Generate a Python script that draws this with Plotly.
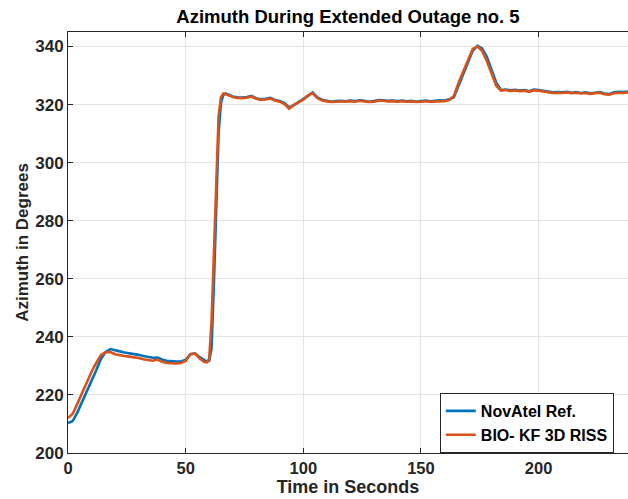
import plotly.graph_objects as go

# Time stamps (s) and azimuth (deg) for the two solutions
time_s = [0, 2, 4, 6, 8, 10, 12, 14, 16, 18, 20, 22, 24, 26, 28, 30, 32, 34, 36, 38,
          40, 42, 44, 46, 48, 50, 52, 54, 56, 58, 59, 60, 61, 62, 63, 64, 65, 66, 67, 68,
          70, 72, 74, 76, 78, 80, 82, 84, 86, 88, 90, 92, 94, 96, 98, 100, 102, 104, 106, 108,
          110, 112, 114, 116, 118, 120, 122, 124, 126, 128, 130, 132, 134, 136, 138, 140, 142, 144, 146, 148,
          150, 152, 154, 156, 158, 160, 162, 164, 166, 168, 170, 172, 174, 176, 178, 180, 182, 184, 186, 188,
          190, 192, 194, 196, 198, 200, 202, 204, 206, 208, 210, 212, 214, 216, 218, 220, 222, 224, 226, 228,
          230, 232, 234, 236, 238]

novatel_ref = [210.3, 211.0, 214.0, 217.5, 221.0, 225.0, 228.5, 232.5, 234.8, 235.8,
               235.5, 235.0, 234.6, 234.4, 234.1, 233.8, 233.4, 233.1, 232.8, 232.9,
               232.2, 231.8, 231.6, 231.5, 231.6, 232.0, 234.0, 234.3, 233.0, 231.8,
               231.5, 231.8, 236.0, 258.0, 285.0, 310.0, 320.5, 323.3, 323.8, 323.5,
               322.8, 322.5, 322.4, 322.6, 323.0, 322.2, 321.8, 322.0, 322.3, 321.6,
               321.2, 320.5, 319.0, 319.8, 320.8, 321.8, 323.0, 324.2, 322.5, 321.7,
               321.3, 321.0, 321.2, 321.3, 321.1, 321.4, 321.2, 321.5, 321.3, 321.0,
               321.2, 321.6, 321.5, 321.3, 321.4, 321.2, 321.4, 321.1, 321.3, 321.0,
               321.2, 321.4, 321.1, 321.3, 321.5, 321.4, 321.8, 322.5, 326.5, 330.5,
               334.5, 338.5, 340.2, 339.3, 336.5, 332.0, 327.5, 325.0, 325.2, 324.9,
               325.1, 324.8, 325.0, 324.6, 325.2, 325.0, 324.7, 324.6, 324.2, 324.3,
               324.2, 324.4, 324.1, 324.3, 324.0, 324.2, 323.9, 324.1, 324.3, 323.8,
               323.6, 324.2, 324.4, 324.3, 324.5]

bio_kf_riss = [212.0, 213.5, 217.0, 220.8, 224.5, 228.0, 231.0, 233.8, 234.7, 234.8,
               234.0, 233.6, 233.4, 233.2, 233.0, 232.7, 232.3, 232.0, 231.8, 232.2,
               231.4, 231.0, 230.9, 230.8, 231.0, 231.7, 234.0, 234.2, 232.5, 231.3,
               231.2, 232.5, 245.0, 268.0, 294.0, 316.0, 322.5, 323.8, 323.6, 323.3,
               322.6, 322.3, 322.2, 322.4, 322.8, 322.0, 321.6, 321.8, 322.1, 321.4,
               321.0, 320.2, 318.6, 319.9, 320.8, 321.7, 323.2, 323.9, 322.2, 321.4,
               321.1, 320.9, 321.0, 321.1, 321.0, 321.2, 321.0, 321.3, 321.1, 320.9,
               321.0, 321.4, 321.3, 321.1, 321.2, 321.0, 321.2, 321.0, 321.1, 320.9,
               321.0, 321.2, 321.0, 321.1, 321.3, 321.2, 321.6, 323.0, 327.5, 331.5,
               335.5, 339.2, 340.0, 338.5, 335.0, 330.5, 326.5, 324.8, 325.0, 324.7,
               324.9, 324.6, 324.8, 324.4, 324.9, 324.8, 324.5, 324.4, 324.0, 324.1,
               324.0, 324.2, 323.9, 324.1, 323.8, 324.0, 323.7, 323.9, 324.1, 323.6,
               323.4, 323.9, 324.1, 324.0, 324.2]

x_ticks = [0, 50, 100, 150, 200]
y_ticks = [200, 220, 240, 260, 280, 300, 320, 340]

axis_color = "#262626"
font_family = "Liberation Sans, Arial, sans-serif"

fig = go.Figure()
fig.add_trace(go.Scatter(x=time_s, y=novatel_ref, mode="lines", name="<b>NovAtel Ref.</b>",
                         line=dict(color="#0072BD", width=2.6)))
fig.add_trace(go.Scatter(x=time_s, y=bio_kf_riss, mode="lines", name="<b>BIO- KF 3D RISS</b>",
                         line=dict(color="#D95319", width=2.6)))

fig.update_layout(
    width=628, height=499,
    margin=dict(l=68, r=0, t=32, b=46),
    paper_bgcolor="white", plot_bgcolor="white",
    font=dict(family=font_family, color=axis_color),
    title=dict(text="<b>Azimuth During Extended Outage no. 5</b>",
               x=(68 + 628) / 2 / 628, xanchor="center", y=1 - 17 / 499, yanchor="middle",
               font=dict(size=18.5, color="#000000")),
    showlegend=True,
    legend=dict(x=0.664, y=0.1425, xanchor="left", yanchor="top",
                bgcolor="white", bordercolor=axis_color, borderwidth=1,
                font=dict(size=16, color="#000000"), itemwidth=30,
                tracegroupgap=0),
)

fig.update_xaxes(
    range=[0, 238], tickvals=x_ticks, ticktext=[f"<b>{v}</b>" for v in x_ticks],
    ticks="inside", ticklen=5, tickcolor=axis_color, tickfont=dict(size=16.5),
    showline=True, linecolor=axis_color, linewidth=1, mirror="ticks",
    showgrid=True, gridcolor="#e5e5e5", gridwidth=1, zeroline=False,
    title=dict(text="<b>Time in Seconds</b>", font=dict(size=18), standoff=2),
)
fig.update_yaxes(
    range=[200, 345], tickvals=y_ticks, ticktext=[f"<b>{v}</b>" for v in y_ticks],
    ticks="inside", ticklen=5, tickcolor=axis_color, tickfont=dict(size=17),
    showline=True, linecolor=axis_color, linewidth=1, mirror=False,
    showgrid=True, gridcolor="#e5e5e5", gridwidth=1, zeroline=False,
    title=dict(text="<b>Azimuth in Degrees</b>", font=dict(size=17), standoff=2),
)

fig.write_html("out.html")
